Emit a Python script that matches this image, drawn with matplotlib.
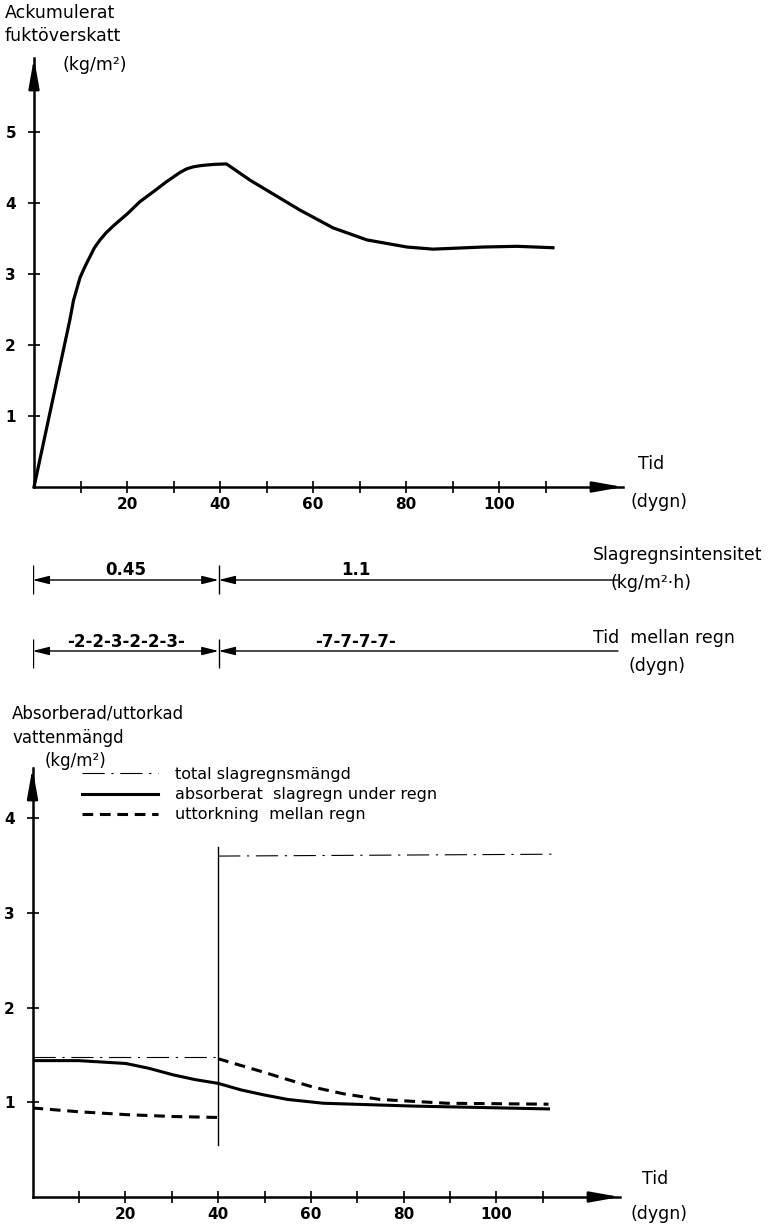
"""
Slagregn - ackumulerat fuktöverskott och absorberad/uttorkad vattenmängd
=======================================================================

Two stacked panels with a dimension-line strip between them.
"""

import matplotlib
matplotlib.use("Agg")
import matplotlib.pyplot as plt

W, H = 770, 1226

plt.rcParams['font.family'] = ['DejaVu Sans']

# --- data: top panel (accumulated moisture surplus, kg/m2) ---
acc_days = [0, 7.7, 8.5, 9.9, 11.0, 12.0, 13.0, 14.2, 15.5, 17.1, 20.1, 22.8,
            25.7, 28.5, 31.4, 32.8, 34.3, 35.7, 37.1, 39.0, 41.4, 46.5, 57.2,
            64.3, 71.6, 80.2, 85.8, 96.6, 103.9, 111.6]
acc_vals = [0, 2.35, 2.63, 2.95, 3.11, 3.24, 3.37, 3.48, 3.58, 3.68, 3.85, 4.02,
            4.16, 4.30, 4.43, 4.48, 4.51, 4.525, 4.535, 4.545, 4.55, 4.32, 3.90,
            3.65, 3.48, 3.38, 3.35, 3.38, 3.39, 3.37]

# --- data: rain periods ---
period_edges = [0, 40]
intensity_labels = ["0.45", "1.1"]
interval_labels = ["-2-2-3-2-2-3-", "-7-7-7-7-"]

# --- data: bottom panel (kg/m2) ---
total_days_1 = [0, 40]
total_vals_1 = [1.48, 1.48]
total_days_2 = [40, 113]
total_vals_2 = [3.60, 3.62]

absorbed_days = [0, 10, 20.1, 25, 30.3, 35, 40, 45, 49.7, 55, 62.7, 82.1, 111.2]
absorbed_vals = [1.44, 1.44, 1.41, 1.36, 1.29, 1.24, 1.20, 1.13, 1.08, 1.03, 0.99, 0.96, 0.93]

drying_days_1 = [0, 10, 20.1, 30.3, 40]
drying_vals_1 = [0.94, 0.90, 0.87, 0.85, 0.84]
drying_days_2 = [40, 49.7, 55, 60.5, 67, 74.9, 89.3, 111.2]
drying_vals_2 = [1.46, 1.32, 1.24, 1.16, 1.09, 1.03, 0.99, 0.98]

separator_span = [0.55, 3.7]

x_ticks = list(range(10, 120, 10))
x_ticklabels = ["", "20", "", "40", "", "60", "", "80", "", "100", ""]


def fig_box(left, top, right, bottom):
    """Axes rectangle from pixel edges."""
    return [left / W, 1 - bottom / H, (right - left) / W, (bottom - top) / H]


def ftext(fig, x, y, s, **kw):
    """Text placed at pixel position (y measured from the top)."""
    kw.setdefault('fontsize', 12.5)
    kw.setdefault('va', 'baseline')
    fig.text(x / W, 1 - y / H, s, **kw)


def style_axes(ax, yticks):
    for side in ('top', 'right'):
        ax.spines[side].set_visible(False)
    for side in ('left', 'bottom'):
        ax.spines[side].set_linewidth(1.8)
    ax.set_xticks(x_ticks)
    ax.set_xticklabels(x_ticklabels, fontsize=11, fontweight='bold')
    ax.set_yticks(yticks)
    ax.set_yticklabels([str(v) for v in yticks], fontsize=11, fontweight='bold')
    ax.tick_params(axis='x', direction='inout', length=8, width=1.2, pad=3)
    ax.tick_params(axis='y', direction='inout', length=8, width=1.2, pad=9)
    # arrowheads on the axes
    head = dict(arrowstyle='-|>,head_length=1.8,head_width=0.32', color='black',
                lw=1.8, mutation_scale=10, shrinkA=0, shrinkB=0)
    ax.annotate('', xy=(1, 0), xycoords='axes fraction', xytext=(-20, 0),
                textcoords='offset points', arrowprops=head, annotation_clip=False)
    ax.annotate('', xy=(0, 1), xycoords='axes fraction', xytext=(0, -20),
                textcoords='offset points', arrowprops=head, annotation_clip=False)


fig = plt.figure(figsize=(W / 100, H / 100), dpi=100)

# ---------------- top panel ----------------
ax1 = fig.add_axes(fig_box(34, 58, 623, 487))
ax1.plot(acc_days, acc_vals, color='black', lw=2.3, solid_joinstyle='round',
         clip_on=False)
ax1.set_xlim(0, (623 - 34) / 4.65)
ax1.set_ylim(0, (487 - 58) / 71)
style_axes(ax1, [1, 2, 3, 4, 5])

ftext(fig, 5, 18, "Ackumulerat")
ftext(fig, 5, 41, "fuktöverskatt")
ftext(fig, 63, 70, "(kg/m²)")
ftext(fig, 638, 469, "Tid")
ftext(fig, 630, 507, "(dygn)")

# ---------------- dimension strip ----------------
axm = fig.add_axes(fig_box(32.6, 540, 618, 680))
axm.set_xlim(0, (618 - 32.6) / 4.65)
axm.set_ylim(680, 540)
axm.axis('off')

x_end = axm.get_xlim()[1]
rows = [(580, intensity_labels, 565, 594, 570),
        (651, interval_labels, 639, 668, 642)]
dim = dict(color='black', lw=1.0, mutation_scale=10, shrinkA=0, shrinkB=0)
for y, labels, y0, y1, ty in rows:
    axm.vlines(period_edges, y0, y1, color='black', lw=1.0)
    axm.annotate('', xy=(period_edges[0], y), xytext=(period_edges[1], y),
                 arrowprops=dict(arrowstyle='<|-|>,head_length=1.0,head_width=0.25', **dim))
    axm.annotate('', xy=(period_edges[1], y), xytext=(x_end, y),
                 arrowprops=dict(arrowstyle='-|>,head_length=1.0,head_width=0.25', **dim))
    axm.text(sum(period_edges) / 2, ty, labels[0], ha='center', va='center',
             fontsize=12, fontweight='bold')
    axm.text(69.5, ty, labels[1], ha='center', va='center',
             fontsize=12, fontweight='bold')

ftext(fig, 593, 560, "Slagregnsintensitet", fontsize=12.5)
ftext(fig, 610, 588, "(kg/m²·h)", fontsize=12.5)
ftext(fig, 593, 643, "Tid  mellan regn", fontsize=12.5)
ftext(fig, 628, 671, "(dygn)", fontsize=12.5)

# ---------------- bottom panel ----------------
ax2 = fig.add_axes(fig_box(32.5, 768, 620, 1197))
dashdot = (0, (20, 6, 2, 6))
dashed = (0, (3.5, 2.2))
l_total, = ax2.plot(total_days_1, total_vals_1, color='black', lw=0.8,
                    ls=dashdot, label='total slagregnsmängd')
ax2.plot(total_days_2, total_vals_2, color='black', lw=0.8, ls=dashdot)
l_abs, = ax2.plot(absorbed_days, absorbed_vals, color='black', lw=2.2,
                  solid_joinstyle='round', label='absorberat  slagregn under regn')
l_dry, = ax2.plot(drying_days_1, drying_vals_1, color='black', lw=2.2,
                  ls=dashed, label='uttorkning  mellan regn')
ax2.plot(drying_days_2, drying_vals_2, color='black', lw=2.2, ls=dashed)
ax2.plot([period_edges[1], period_edges[1]], separator_span, color='black', lw=1.0)
ax2.set_xlim(0, (620 - 32.5) / 4.64)
ax2.set_ylim(0, (1197 - 768) / 94.7)
style_axes(ax2, [1, 2, 3, 4])

ax2.legend(handles=[l_total, l_abs, l_dry], loc='upper left',
           bbox_to_anchor=(82 / W, 1 - 767 / H), bbox_transform=fig.transFigure,
           frameon=False, fontsize=11.5, borderpad=0, borderaxespad=0,
           handlelength=4.75, handletextpad=1.05, labelspacing=0.32)

ftext(fig, 12, 719, "Absorberad/uttorkad", fontsize=12)
ftext(fig, 13, 743, "vattenmängd", fontsize=12)
ftext(fig, 45, 766, "(kg/m²)", fontsize=12)
ftext(fig, 642, 1184, "Tid")
ftext(fig, 630, 1219, "(dygn)")

fig.savefig("out.png", dpi=100)
